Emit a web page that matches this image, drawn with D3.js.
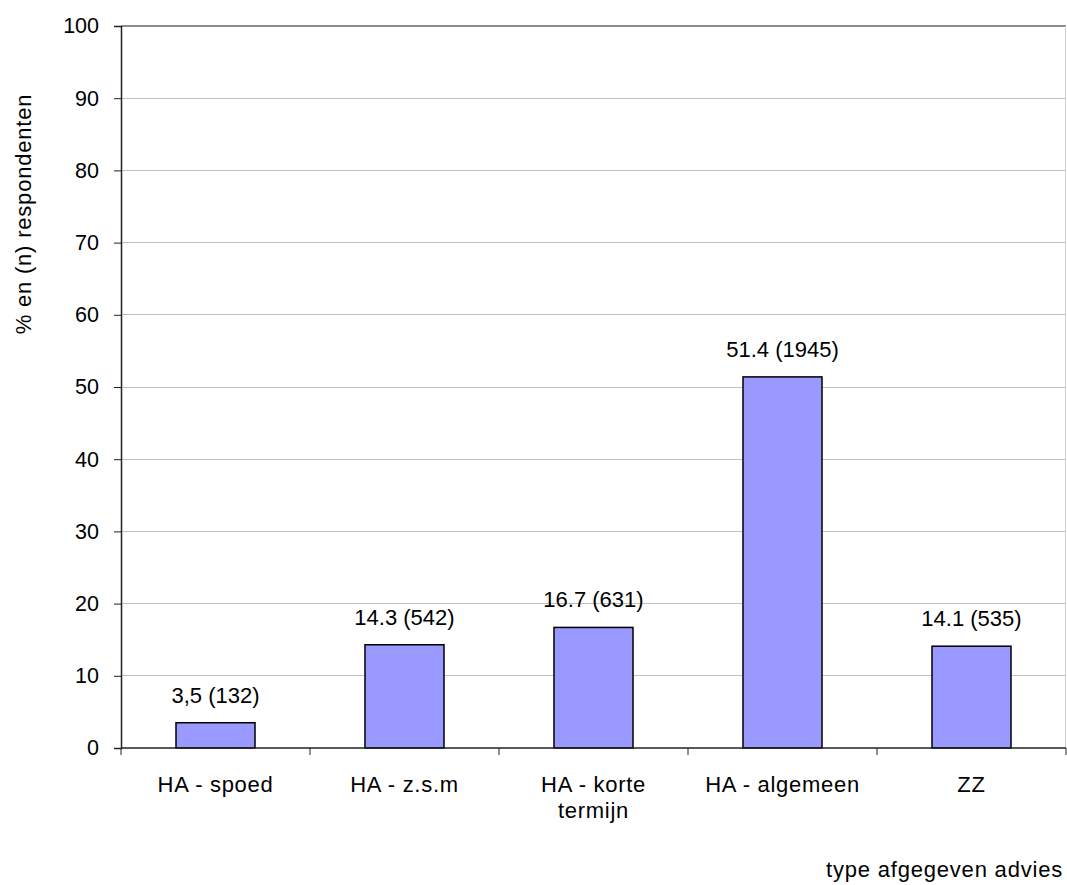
<!DOCTYPE html>
<html><head><meta charset="utf-8">
<script src="https://cdn.jsdelivr.net/npm/d3@7"></script>
<style>body{margin:0;background:#fff}svg{display:block}text{font-family:"Liberation Sans",Arial,sans-serif;fill:#000}</style>
</head><body><svg id="c" width="1067" height="885"></svg>
<script>
const categories = [["HA - spoed"],["HA - z.s.m"],["HA - korte","termijn"],["HA - algemeen"],["ZZ"]];
const values = [3.5, 14.3, 16.7, 51.4, 14.1];
const valueLabels = ["3,5 (132)","14.3 (542)","16.7 (631)","51.4 (1945)","14.1 (535)"];
const yTicks = [0,10,20,30,40,50,60,70,80,90,100];

const svg = d3.select("#c");
const L=121, R=1066, T=26, B=748;
const x = d3.scaleBand().domain(d3.range(categories.length)).range([L,R]).paddingInner(0.582).paddingOuter(0.291);
const bx = d3.scaleBand().domain(d3.range(categories.length)).range([L,R]);
const y = d3.scaleLinear().domain([0,100]).range([B,T]);

// gridlines
svg.append("g").selectAll("line").data(yTicks.filter(d=>d>0&&d<100)).join("line")
  .attr("x1",L).attr("x2",R).attr("y1",d=>y(d)).attr("y2",d=>y(d))
  .attr("stroke","#c0c0c0").attr("stroke-width",1).attr("shape-rendering","crispEdges");
svg.append("line").attr("x1",L).attr("x2",R).attr("y1",y(100)).attr("y2",y(100))
  .attr("stroke","#8c8c8c").attr("stroke-width",2);
svg.append("line").attr("x1",R-0.5).attr("x2",R-0.5).attr("y1",T).attr("y2",B)
  .attr("stroke","#d0d0d0").attr("stroke-width",1);

// bars
svg.append("g").selectAll("rect").data(values).join("rect")
  .attr("x",(d,i)=>x(i)).attr("width",x.bandwidth())
  .attr("y",d=>y(d)).attr("height",d=>B-y(d))
  .attr("fill","#9999ff").attr("stroke","#000").attr("stroke-width",1.5);

// value labels
svg.append("g").selectAll("text").data(values).join("text")
  .attr("x",(d,i)=>x(i)+x.bandwidth()/2).attr("y",d=>y(d)-20)
  .attr("text-anchor","middle").attr("font-size",22).text((d,i)=>valueLabels[i]);

// y axis
const ya = svg.append("g").attr("transform",`translate(${L},0)`)
  .call(d3.axisLeft(y).tickValues(yTicks).tickSize(7).tickPadding(15));
ya.select(".domain").attr("stroke","#222").attr("stroke-width",1.5);
ya.selectAll(".tick line").attr("stroke","#222");
ya.selectAll(".tick text").attr("font-size",21.5).attr("font-family","Liberation Sans, Arial, sans-serif").attr("fill","#000");

// x axis
svg.append("line").attr("x1",L).attr("x2",R).attr("y1",B).attr("y2",B).attr("stroke","#222").attr("stroke-width",1.5);
svg.append("g").selectAll("line").data(d3.range(categories.length+1)).join("line")
  .attr("x1",i=>i<categories.length?bx(i):R).attr("x2",i=>i<categories.length?bx(i):R)
  .attr("y1",B).attr("y2",B+7).attr("stroke","#222").attr("stroke-width",1);
const cl = svg.append("g").selectAll("text").data(categories).join("text")
  .attr("text-anchor","middle").attr("font-size",22).attr("letter-spacing",0.7)
  .attr("x",(d,i)=>bx(i)+bx.bandwidth()/2).attr("y",792);
cl.selectAll("tspan").data(d=>d).join("tspan")
  .attr("x",function(){return this.parentNode.getAttribute("x");})
  .attr("dy",(d,i)=>i===0?0:26).text(d=>d);

// axis titles
svg.append("text").attr("x",1063).attr("y",877).attr("text-anchor","end").attr("font-size",22).attr("letter-spacing",0.8).text("type afgegeven advies");
svg.append("text").attr("transform","translate(31,214) rotate(-90)").attr("text-anchor","middle").attr("font-size",22).attr("letter-spacing",0.8).text("% en (n) respondenten");
</script></body></html>
